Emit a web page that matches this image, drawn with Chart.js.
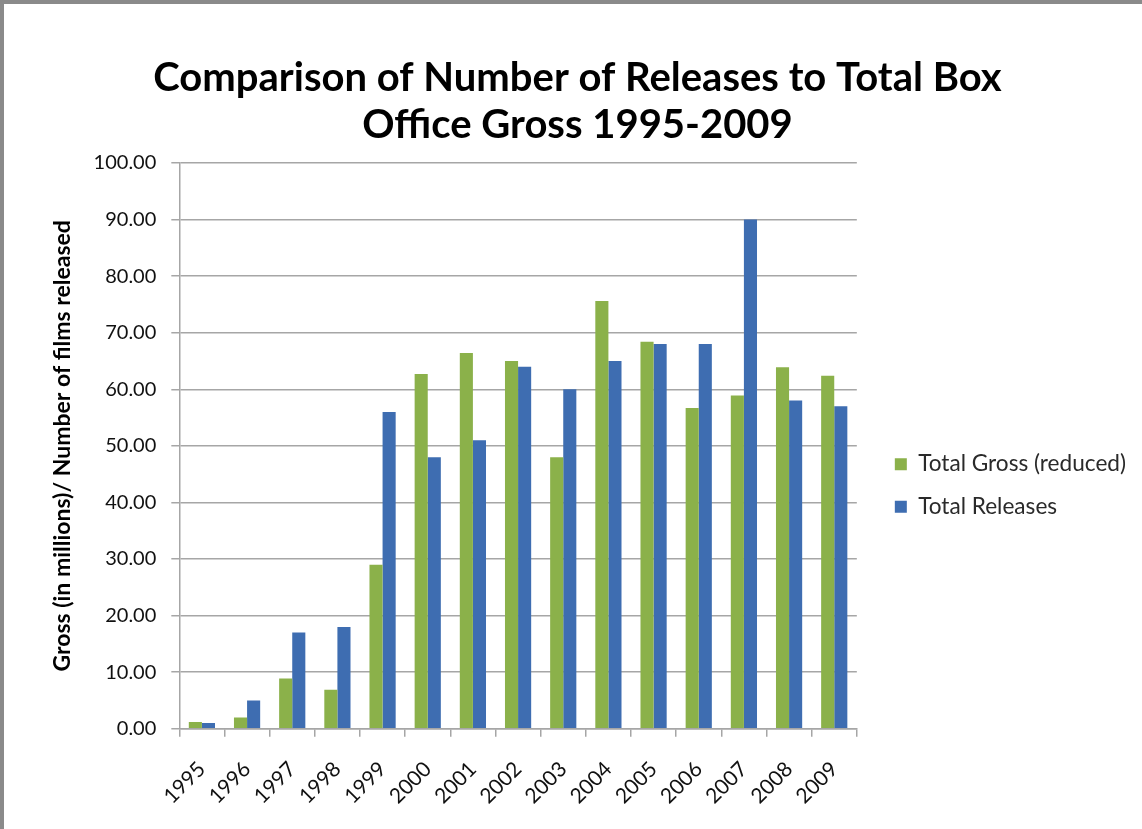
<!DOCTYPE html>
<html>
<head>
<meta charset="utf-8">
<script src="https://cdn.jsdelivr.net/npm/chart.js@4/dist/chart.umd.min.js"></script>
<style>
  html, body { margin: 0; padding: 0; background: #fff; }
  #wrap { position: absolute; left: 0; top: 0; width: 1142px; height: 829px; box-sizing: border-box;
          border-top: 4px solid #8a8a8a; border-left: 4px solid #8a8a8a; }
  canvas { display: block; }
</style>
</head>
<body>
<div id="wrap"><canvas id="chart" width="1138" height="825"></canvas></div>
<script>
// years on the x axis
var years = ['1995', '1996', '1997', '1998', '1999', '2000', '2001', '2002',
             '2003', '2004', '2005', '2006', '2007', '2008', '2009'];

// total gross (reduced) per year
var grossValues = [1.2, 2.0, 8.9, 6.9, 29.0, 62.7, 66.4, 65.0, 48.0, 75.6, 68.4, 56.7, 58.9, 63.9, 62.4];

// number of releases per year
var releaseValues = [1, 5, 17, 18, 56, 48, 51, 64, 60, 65, 68, 68, 90, 58, 57];

var titleLines = ['Comparison of Number of Releases to Total Box', 'Office Gross 1995-2009'];

var fontFamily = 'Lato, "Open Sans", sans-serif';
var gridColor = '#a6a6a6';
var legendGap = 18; // extra space between plot and legend

var ctx = document.getElementById('chart').getContext('2d');

var chart = new Chart(ctx, {
    type: 'bar',
    data: {
        labels: years,
        datasets: [{
            label: 'Total Gross (reduced)',
            data: grossValues,
            backgroundColor: '#8bb14a'
        }, {
            label: 'Total Releases',
            data: releaseValues,
            backgroundColor: '#3e6db1'
        }]
    },
    options: {
        responsive: false,
        animation: false,
        layout: { padding: { left: 15, right: 6, top: 18, bottom: 0 } },
        datasets: {
            bar: { categoryPercentage: 0.58, barPercentage: 1.0 }
        },
        plugins: {
            title: {
                display: true,
                text: titleLines,
                color: '#000',
                font: { family: fontFamily, size: 40, weight: 'bold', lineHeight: 1.175 },
                padding: { top: 33, bottom: 14 }
            },
            legend: {
                position: 'right',
                title: { display: true, text: ' ', font: { size: 10 }, padding: { top: 54, bottom: 54 } },
                labels: {
                    color: '#2a2a2a',
                    font: { family: fontFamily, size: 22.6 },
                    boxWidth: 12,
                    boxHeight: 12,
                    padding: 20
                }
            },
            tooltip: { enabled: false }
        },
        scales: {
            x: {
                grid: { drawOnChartArea: false, drawTicks: true, tickLength: 8, color: gridColor, lineWidth: 1.5 },
                border: { color: gridColor, width: 1.5 },
                ticks: {
                    color: '#111',
                    font: { family: fontFamily, size: 21 },
                    minRotation: 45,
                    maxRotation: 45,
                    autoSkip: false,
                    padding: 20
                }
            },
            y: {
                min: 0,
                max: 100,
                grid: { color: gridColor, lineWidth: 1.5, tickLength: 8 },
                border: { color: gridColor, width: 1.5 },
                ticks: {
                    stepSize: 10,
                    color: '#111',
                    font: { family: fontFamily, size: 20 },
                    padding: 15,
                    callback: function (v) { return v.toFixed(2); }
                },
                title: {
                    display: true,
                    text: 'Gross (in millions)/ Number of films released',
                    color: '#000',
                    font: { family: fontFamily, size: 23, weight: 'bold' },
                    padding: { top: 30, bottom: 2 }
                }
            }
        }
    }
});

// widen the legend box and draw its items further right, leaving a wider gap
var legend = chart.legend;
var baseFit = legend.fit;
legend.fit = function () {
    baseFit.call(this);
    this.width += legendGap;
};
var baseDraw = legend.draw;
legend.draw = function () {
    this.left += legendGap;
    baseDraw.call(this);
    this.left -= legendGap;
};
chart.update();
</script>
</body>
</html>
